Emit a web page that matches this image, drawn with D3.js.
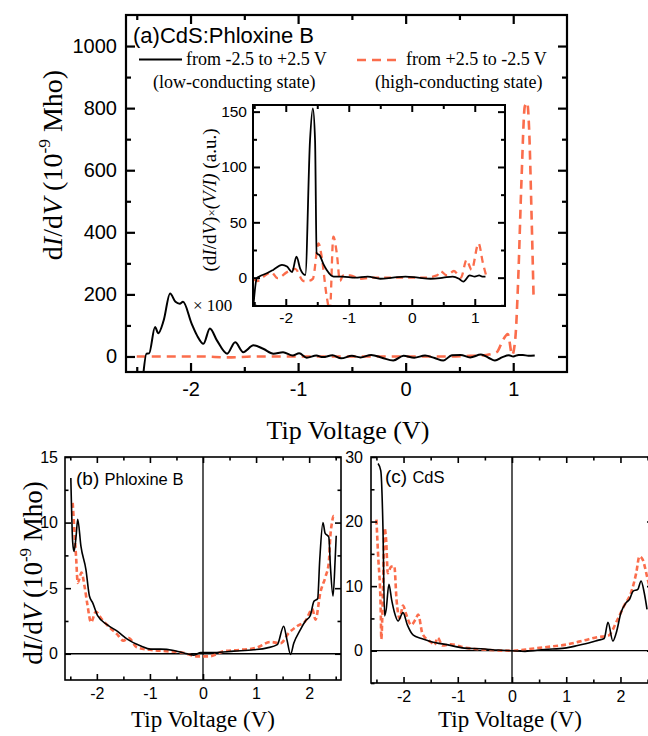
<!DOCTYPE html>
<html>
<head>
<meta charset="utf-8">
<script src="https://cdn.jsdelivr.net/npm/d3@7"></script>
<style>
  body { margin: 0; background: #fff; }
  .tick text { font-family: "Liberation Sans", Arial, sans-serif; fill: #000; }
  .serif { font-family: "Liberation Serif", "Times New Roman", serif; }
  .sans { font-family: "Liberation Sans", Arial, sans-serif; }
</style>
</head>
<body>
<script>
// ---- panel (a): main curves (dI/dV, 10^-9 Mho); black one is x100
var aLowV = [-2.44, -2.41, -2.385, -2.33, -2.30, -2.25, -2.19, -2.14, -2.10, -2.07, -1.99, -1.94, -1.88, -1.82, -1.755,
  -1.66, -1.585, -1.51, -1.415, -1.32, -1.23, -1.14, -1.05, -0.99, -0.92, -0.83, -0.77, -0.68, -0.6, -0.5, -0.42,
  -0.32, -0.22, -0.115, -0.02, 0.08, 0.18, 0.27, 0.35, 0.43, 0.51, 0.6, 0.7, 0.77, 0.83, 0.9, 0.96, 1.0, 1.05, 1.09, 1.14, 1.2];
var aLowY = [-60, 9, 10, 95, 75, 116, 203, 176, 170, 176, 106, 68, 41, 90, 52,
  9, 46, 14, 36, 24, 9, 14, 3, 10, -4, 3, -2, 4, -6, 2, -3,
  5, -4, -13, 2, -4, 3, -5, -13, 4, 5, -3, 6, -4, -13, -2, 4, 0, 5, 5, 2, 3];
var aHighV = [-2.5, -2.2, -1.9, -1.65, -1.4, -1.1, -0.8, -0.5, -0.2, 0.1, 0.4, 0.6, 0.75, 0.85, 0.90, 0.95,
  0.99, 1.02, 1.046, 1.077, 1.108, 1.13, 1.148, 1.17, 1.19];
var aHighY = [0, 0, 0, -3, 0, 0, 0, 0, 0, 0, 0, 2, 5, 15, 50, 72,
  5, 60, 246, 569, 806, 817, 731, 462, 181];

// ---- inset: (dI/dV)x(V/I), a.u.
var inLowV = [-2.52, -2.46, -2.42, -2.3, -2.2, -2.06, -1.98, -1.90, -1.83, -1.77, -1.69, -1.615, -1.57, -1.535,
  -1.51, -1.46, -1.40, -1.35, -1.24, -1.1, -0.9, -0.7, -0.5, -0.3, -0.1, 0.1, 0.3, 0.5, 0.65, 0.75, 0.82, 0.92,
  1.0, 1.07, 1.12, 1.17];
var inLowY = [-30, -0.5, 1, 4, 7, 11.5, 10, 5, 19, 8, 2.4, 124, 153, 124,
  22, 20, 12, 7, 1, 1, 0, 1, -1, 0, 1, 0, -1, 0, 1, -1, -3.6, 2,
  1, 2, 1, 1];
var inHighV = [-2.52, -2.45, -2.35, -2.23, -2.13, -1.98, -1.85, -1.72, -1.65, -1.57, -1.48, -1.43, -1.35, -1.30,
  -1.245, -1.19, -1.14, -1.09, -0.98, -0.82, -0.6, -0.3, 0, 0.2, 0.40, 0.45, 0.56, 0.67, 0.78, 0.87, 0.95,
  1.06, 1.13, 1.19];
var inHighY = [-1, -3, 1, 5, -0.5, 5, 8, -3, -3, -1, 31, 19, -17, -30,
  37, 22, -3, 2, 2, -1, 0, 0, 0, 0, 2, 6, 2, 6, 0, 16, 7,
  31, 13, 0];

// ---- panel (b): Phloxine B
var bLowV = [-2.49, -2.455, -2.43, -2.39, -2.36, -2.30, -2.205, -2.14, -2.08, -1.985, -1.80, -1.61, -1.42, -1.17,
  -0.99, -0.80, -0.55, -0.30, -0.17, -0.04, 0.21, 0.58, 0.96, 1.21, 1.40, 1.52, 1.58, 1.65, 1.71, 1.83, 1.93,
  2.02, 2.09, 2.16, 2.2, 2.26, 2.30, 2.37, 2.40, 2.45, 2.49, 2.51];
var bLowY = [13.4, 8.5, 7.8, 9, 10.25, 8.2, 6.4, 4.4, 3.9, 2.9, 2.2, 1.7, 1.1, 0.6,
  0.35, 0.35, 0.25, 0.0, -0.1, 0.1, 0.1, 0.2, 0.3, 0.45, 0.7, 2.1, 1.1, -0.05, 0.8, 1.8, 2.5,
  2.9, 4.0, 4.2, 7.2, 10.0, 9.2, 8.9, 6.7, 4.4, 7.2, 9.0];
var bHighV = [-2.455, -2.39, -2.36, -2.33, -2.29, -2.23, -2.18, -2.11, -2.02, -1.9, -1.76, -1.62, -1.50, -1.40,
  -1.25, -1.0, -0.7, -0.4, -0.1, 0.11, 0.4, 0.7, 1.0, 1.27, 1.46, 1.62, 1.77, 1.93, 2.06, 2.12, 2.21,
  2.31, 2.37, 2.40, 2.43, 2.46, 2.5];
var bHighY = [11.5, 7.3, 5.4, 5.7, 6.2, 5.1, 3.8, 2.4, 3.2, 2.6, 2.0, 1.5, 1.0, 1.2,
  0.5, 0.3, 0.2, 0.1, -0.2, -0.2, 0.2, 0.3, 0.45, 0.9, 0.8, 1.6, 2.1, 2.5, 3.4, 2.6, 4.65,
  5.9, 6.95, 9.0, 10.0, 10.5, 10.4];

// ---- panel (c): CdS
var cLowV = [-2.47, -2.42, -2.38, -2.35, -2.32, -2.27, -2.22, -2.17, -2.10, -2.01, -1.93, -1.82, -1.67, -1.49,
  -1.18, -0.88, -0.57, -0.26, -0.01, 0.24, 0.6, 0.97, 1.21, 1.46, 1.58, 1.70, 1.77, 1.86, 1.92, 2.01,
  2.1, 2.17, 2.23, 2.32, 2.38, 2.44, 2.49];
var cLowY = [29, 27.9, 19.2, 5.4, 6.4, 10.3, 7.9, 6, 4.6, 5.9, 4, 2.4, 1.9, 1.4,
  0.9, 0.4, 0.3, 0.1, 0, -0.1, 0.2, 0.4, 0.8, 1.3, 1.6, 1.9, 4.4, 1.5, 2.7, 5.9,
  7.4, 8.0, 9.2, 9.5, 10.8, 8.9, 6.4];
var cHighV = [-2.50, -2.47, -2.42, -2.41, -2.38, -2.35, -2.32, -2.29, -2.23, -2.17, -2.13, -2.07, -2.01, -1.95,
  -1.86, -1.77, -1.73, -1.65, -1.49, -1.43, -1.37, -1.28, -1.13, -0.88, -0.57, 0, 0.36, 0.67, 0.97, 1.33,
  1.58, 1.77, 1.95, 2.07, 2.20, 2.29, 2.35, 2.41, 2.49, 2.56];
var cHighY = [20.3, 15, 6, 1.8, 9, 19, 17, 12, 13, 13.1, 8, 5, 7, 5.6,
  4, 5, 5.6, 2.6, 1.3, 0.9, 2, 0.8, 1, 0.5, 0.2, 0, 0.3, 0.6, 0.9, 1.6,
  2.1, 2.3, 4.9, 7, 9.1, 12, 14.6, 14.1, 11.5, 9];

var RED = "#fb6d4c";

var svg = d3.select("body")
            .append("svg")
            .attr("width", 648)
            .attr("height", 736);

function pairs(vs, ys) {
    return vs.map(function(v, i) { return [v, ys[i]]; });
}

function fmt(d) { return String(d); }

// frame + inward ticks on all four sides
function frame(g, x, y, o) {
    var x0 = x.range()[0], x1 = x.range()[1];
    var y0 = y.range()[0], y1 = y.range()[1];
    var big = o.big || 8, small = o.small || 4;

    g.append("rect")
        .attr("x", x0).attr("y", y1)
        .attr("width", x1 - x0).attr("height", y0 - y1)
        .attr("fill", o.fill || "none")
        .attr("stroke", "#000")
        .attr("stroke-width", o.sw || 2);

    function put(axis, tr, labels) {
        var a = g.append("g").attr("transform", tr).call(axis);
        a.select(".domain").remove();
        a.selectAll("line").attr("stroke-width", o.sw || 2);
        if (labels) a.selectAll("text").style("font-size", o.fs + "px");
    }
    put(d3.axisBottom(x).tickValues(o.xMajor).tickSize(-big).tickPadding(o.xPad).tickFormat(fmt), "translate(0," + y0 + ")", true);
    put(d3.axisBottom(x).tickValues(o.xMinor).tickSize(-small).tickFormat(""), "translate(0," + y0 + ")");
    put(d3.axisTop(x).tickValues(o.xMajor).tickSize(-big).tickFormat(""), "translate(0," + y1 + ")");
    put(d3.axisTop(x).tickValues(o.xMinor).tickSize(-small).tickFormat(""), "translate(0," + y1 + ")");
    put(d3.axisLeft(y).tickValues(o.yMajor).tickSize(-big).tickPadding(o.yPad).tickFormat(fmt), "translate(" + x0 + ",0)", true);
    put(d3.axisLeft(y).tickValues(o.yMinor).tickSize(-small).tickFormat(""), "translate(" + x0 + ",0)");
    put(d3.axisRight(y).tickValues(o.yMajor).tickSize(-big).tickFormat(""), "translate(" + x1 + ",0)");
    put(d3.axisRight(y).tickValues(o.yMinor).tickSize(-small).tickFormat(""), "translate(" + x1 + ",0)");
}

function curves(g, x, y, id, series) {
    var x0 = x.range()[0], x1 = x.range()[1];
    var y0 = y.range()[0], y1 = y.range()[1];
    svg.append("clipPath").attr("id", id)
        .append("rect").attr("x", x0).attr("y", y1).attr("width", x1 - x0).attr("height", y0 - y1);
    var line = d3.line()
                 .x(function(d) { return x(d[0]); })
                 .y(function(d) { return y(d[1]); })
                 .curve(d3.curveMonotoneX);
    var cg = g.append("g").attr("clip-path", "url(#" + id + ")");
    series.forEach(function(s) {
        cg.append("path")
            .attr("d", line(s.data))
            .attr("fill", "none")
            .attr("stroke", s.color)
            .attr("stroke-width", s.w)
            .attr("stroke-dasharray", s.dash || null)
            .attr("stroke-linejoin", "round");
    });
}

// y-label with italic I, V and superscript -9 (rotated)
function dIdVLabel(g, cx, cy, size) {
    var t = g.append("text")
              .attr("class", "serif")
              .attr("transform", "translate(" + cx + "," + cy + ") rotate(-90)")
              .attr("text-anchor", "middle")
              .style("font-size", size + "px");
    t.append("tspan").text("d");
    t.append("tspan").style("font-style", "italic").text("I");
    t.append("tspan").text("/d");
    t.append("tspan").style("font-style", "italic").text("V");
    t.append("tspan").text(" (10");
    t.append("tspan").attr("dy", -size * 0.42).style("font-size", (size * 0.62) + "px").text("-9");
    t.append("tspan").attr("dy", size * 0.42).text(" Mho)");
}

function xLabel(g, cx, by, size) {
    g.append("text")
        .attr("class", "serif")
        .attr("x", cx).attr("y", by)
        .attr("text-anchor", "middle")
        .style("font-size", size + "px")
        .text("Tip Voltage (V)");
}

// ================= panel (a) =================
var ga = svg.append("g");
var xA = d3.scaleLinear().domain([-2.6, 1.5]).range([126, 567]);
var yA = d3.scaleLinear().domain([-50, 1100]).range([372, 15]);

curves(ga, xA, yA, "clipA", [
    { data: pairs(aHighV, aHighY), color: RED, w: 2.6, dash: "9,6" },
    { data: pairs(aLowV, aLowY), color: "#000", w: 2 }
]);
frame(ga, xA, yA, {
    xMajor: [-2, -1, 0, 1], xMinor: [-2.5, -1.5, -0.5, 0.5],
    yMajor: [0, 200, 400, 600, 800, 1000], yMinor: [100, 300, 500, 700, 900],
    fs: 20, xPad: 10, yPad: 9, sw: 2.2, big: 9, small: 5
});
dIdVLabel(ga, 62, 165, 28);
xLabel(ga, 348, 439, 26);

ga.append("text").attr("class", "sans")
    .attr("x", 133).attr("y", 43)
    .style("font-size", "22px")
    .text("(a)CdS:Phloxine B");

// legend
ga.append("line").attr("x1", 139).attr("x2", 182).attr("y1", 59.5).attr("y2", 59.5)
    .attr("stroke", "#000").attr("stroke-width", 2);
ga.append("text").attr("class", "serif").attr("x", 186).attr("y", 65)
    .style("font-size", "18px").text("from -2.5 to +2.5 V");
ga.append("text").attr("class", "serif").attr("x", 153).attr("y", 88)
    .style("font-size", "18px").text("(low-conducting state)");
ga.append("line").attr("x1", 357).attr("x2", 398).attr("y1", 60).attr("y2", 60)
    .attr("stroke", RED).attr("stroke-width", 2.6).attr("stroke-dasharray", "9,6");
ga.append("text").attr("class", "serif").attr("x", 406).attr("y", 65)
    .style("font-size", "18px").text("from +2.5 to -2.5 V");
ga.append("text").attr("class", "serif").attr("x", 375).attr("y", 88)
    .style("font-size", "18px").text("(high-conducting state)");

ga.append("text").attr("class", "serif")
    .attr("x", 193).attr("y", 311)
    .style("font-size", "17px")
    .text("\u00d7 100");

// ---- inset
var xI = d3.scaleLinear().domain([-2.52, 1.48]).range([253, 505]);
var yI = d3.scaleLinear().domain([-25.6, 156]).range([306, 105]);
ga.append("rect").attr("x", 253).attr("y", 105).attr("width", 252).attr("height", 201).attr("fill", "#fff");
curves(ga, xI, yI, "clipI", [
    { data: pairs(inHighV, inHighY), color: RED, w: 2.3, dash: "7,5" },
    { data: pairs(inLowV, inLowY), color: "#000", w: 1.8 }
]);
frame(ga, xI, yI, {
    xMajor: [-2, -1, 0, 1], xMinor: [-2.5, -1.5, -0.5, 0.5],
    yMajor: [0, 50, 100, 150], yMinor: [-25, 25, 75, 125],
    fs: 15.5, xPad: 6, yPad: 6, sw: 2, big: 7, small: 4
});
var il = ga.append("text")
           .attr("class", "serif")
           .attr("transform", "translate(216,200) rotate(-90)")
           .attr("text-anchor", "middle")
           .style("font-size", "19px");
il.append("tspan").text("(d");
il.append("tspan").style("font-style", "italic").text("I");
il.append("tspan").text("/d");
il.append("tspan").style("font-style", "italic").text("V");
il.append("tspan").text(")");
il.append("tspan").style("font-size", "13px").text("\u00d7");
il.append("tspan").style("font-style", "italic").text("(V/I)");
il.append("tspan").text(" (a.u.)");

// ================= panel (b) =================
var gb = svg.append("g");
var xB = d3.scaleLinear().domain([-2.6, 2.6]).range([65, 341]);
var yB = d3.scaleLinear().domain([-2, 15]).range([680, 457]);
gb.append("line").attr("x1", 65).attr("x2", 341).attr("y1", yB(0)).attr("y2", yB(0)).attr("stroke", "#000").attr("stroke-width", 1.3);
gb.append("line").attr("x1", xB(0)).attr("x2", xB(0)).attr("y1", 457).attr("y2", 680).attr("stroke", "#000").attr("stroke-width", 1.3);
curves(gb, xB, yB, "clipB", [
    { data: pairs(bHighV, bHighY), color: RED, w: 2.6, dash: "5,3" },
    { data: pairs(bLowV, bLowY), color: "#000", w: 1.6 }
]);
frame(gb, xB, yB, {
    xMajor: [-2, -1, 0, 1, 2], xMinor: [-2.5, -1.5, -0.5, 0.5, 1.5, 2.5],
    yMajor: [0, 5, 10, 15], yMinor: [2.5, 7.5, 12.5],
    fs: 16, xPad: 8, yPad: 7, sw: 1.6, big: 6, small: 3.5
});
dIdVLabel(gb, 42, 573, 27);
xLabel(gb, 203, 727, 23);
var tb = gb.append("text").attr("class", "sans").attr("x", 76).attr("y", 485);
tb.append("tspan").style("font-size", "19px").text("(b) ");
tb.append("tspan").style("font-size", "16.5px").text("Phloxine B");

// ================= panel (c) =================
var gc = svg.append("g");
var xC = d3.scaleLinear().domain([-2.6, 2.6]).range([371, 653]);
var yC = d3.scaleLinear().domain([-5, 30]).range([683, 457]);
gc.append("line").attr("x1", 371).attr("x2", 653).attr("y1", yC(0)).attr("y2", yC(0)).attr("stroke", "#000").attr("stroke-width", 1.3);
gc.append("line").attr("x1", xC(0)).attr("x2", xC(0)).attr("y1", 457).attr("y2", 683).attr("stroke", "#000").attr("stroke-width", 1.3);
curves(gc, xC, yC, "clipC", [
    { data: pairs(cHighV, cHighY), color: RED, w: 2.6, dash: "5,3" },
    { data: pairs(cLowV, cLowY), color: "#000", w: 1.6 }
]);
frame(gc, xC, yC, {
    xMajor: [-2, -1, 0, 1, 2], xMinor: [-2.5, -1.5, -0.5, 0.5, 1.5, 2.5],
    yMajor: [0, 10, 20, 30], yMinor: [-5, 5, 15, 25],
    fs: 16, xPad: 8, yPad: 8, sw: 1.6, big: 6, small: 3.5
});
xLabel(gc, 510, 727, 23);
var tc = gc.append("text").attr("class", "sans").attr("x", 385).attr("y", 483);
tc.append("tspan").style("font-size", "19px").text("(c) ");
tc.append("tspan").style("font-size", "16.5px").text("CdS");
</script>
</body>
</html>
